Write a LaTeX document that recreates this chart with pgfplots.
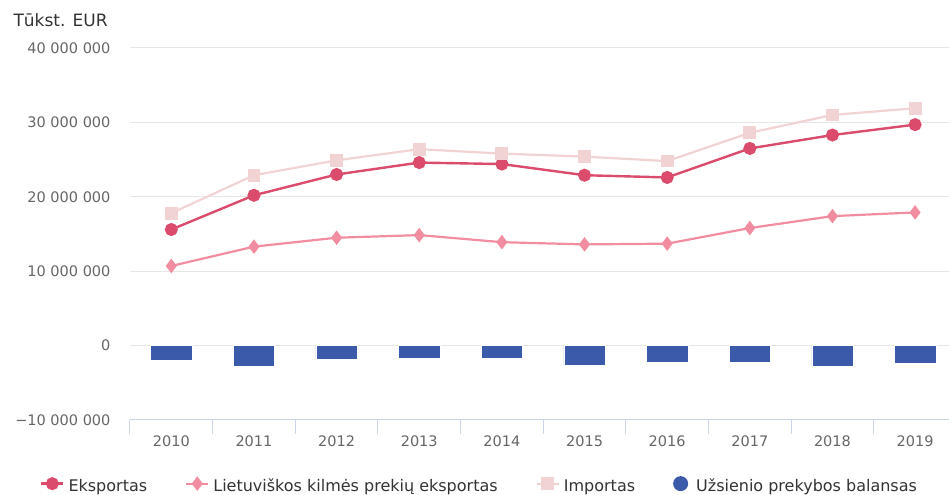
\documentclass[border=0pt]{standalone}
\usepackage{pgfplots}
\pgfplotsset{compat=1.18}
\usepackage{fontspec}
\setmainfont{DejaVu Sans}
\definecolor{eks}{HTML}{DB4C6C}
\definecolor{lie}{HTML}{F28CA0}
\definecolor{imp}{HTML}{F2D3D3}
\definecolor{bal}{HTML}{3B5AA9}
\definecolor{gridc}{HTML}{E6E6E6}
\definecolor{axc}{HTML}{CCD6EB}
\definecolor{lab}{HTML}{666666}
\definecolor{txt}{HTML}{333333}
\begin{document}
\begin{tikzpicture}
\begin{axis}[name=ax, scale only axis, width=819pt, height=372pt,
  xmin=-0.5, xmax=9.41, ymin=-10000000, ymax=40000000,
  scaled y ticks=false,
  axis x line*=bottom, axis y line*=left,
  x axis line style={draw=axc, line width=1pt, -},
  y axis line style={draw=none},
  xtick={0,...,9}, xticklabels={2010,2011,2012,2013,2014,2015,2016,2017,2018,2019},
  major x tick style={draw=none},
  minor xtick={-0.5,0.5,...,9.5},
  minor x tick style={draw=axc, line width=1pt},
  minor tick length=14pt, major tick length=0pt, tick align=outside,
  ytick={-10000000,0,10000000,20000000,30000000,40000000},
  yticklabels={\char"2212 10 000 000,0,10 000 000,20 000 000,30 000 000,40 000 000},
  major y tick style={draw=none},
  ymajorgrids, grid style={draw=gridc, line width=1pt},
  xticklabel style={text=lab, font=\fontsize{14.5}{17}\selectfont, yshift=-12pt},
  yticklabel style={text=lab, font=\fontsize{14.5}{17}\selectfont, xshift=-16pt},
  legend style={at={(0.428,-0.177)}, anchor=center, draw=none, fill=none,
    font=\fontsize{16}{19}\selectfont, text=txt,
    nodes={text height=0.75em, text depth=0.22em, inner xsep=4pt},
    /tikz/every even column/.append style={column sep=34pt}},
  legend columns=4, legend cell align=left,
  legend image code/.code={%
    \draw[mark repeat=2,mark phase=2] plot coordinates {(0pt,5pt) (11pt,5pt) (22pt,5pt)};},
  clip=false,
]
\addplot[ybar, bar width=0.5, fill=bal, draw=white, line width=0.5pt, forget plot]
  coordinates {(0,-2000000) (1,-2800000) (2,-1800000) (3,-1650000) (4,-1650000)
               (5,-2600000) (6,-2200000) (7,-2200000) (8,-2800000) (9,-2400000)};
\addplot[eks, line width=2.4pt, mark=*, mark size=5.3pt, mark options={fill=eks, draw=none}]
  coordinates {(0,15600000) (1,20200000) (2,23000000) (3,24600000) (4,24400000)
               (5,22900000) (6,22600000) (7,26500000) (8,28300000) (9,29700000)};
\addlegendentry{Eksportas}
\addplot[lie, line width=2.2pt, mark=diamond*, mark size=5.5pt, mark options={fill=lie, draw=none}]
  coordinates {(0,10700000) (1,13300000) (2,14500000) (3,14850000) (4,13900000)
               (5,13600000) (6,13700000) (7,15800000) (8,17400000) (9,17900000)};
\addlegendentry{Lietuviškos kilmės prekių eksportas}
\addplot[imp, line width=2.2pt, mark=square*, mark size=5.3pt, mark options={fill=imp, draw=none}]
  coordinates {(0,17800000) (1,22900000) (2,24900000) (3,26400000) (4,25800000)
               (5,25400000) (6,24800000) (7,28600000) (8,31000000) (9,31900000)};
\addlegendentry{Importas}
\addlegendimage{draw=none, legend image code/.code={\fill[bal] (7.5pt,5pt) circle (7.5pt); \path[draw=none] (0pt,5pt) -- (19pt,5pt);}}
\addlegendentry{Užsienio prekybos balansas}
\end{axis}
\node[anchor=base west, font=\fontsize{17}{20}\selectfont, text=txt] at ([xshift=-120pt,yshift=21pt]ax.north west) {Tūkst. EUR};
\pgfresetboundingbox
\path[use as bounding box] ([xshift=-130pt,yshift=48pt]ax.north west) rectangle ([yshift=-75pt]ax.south east);
\end{tikzpicture}
\end{document}
